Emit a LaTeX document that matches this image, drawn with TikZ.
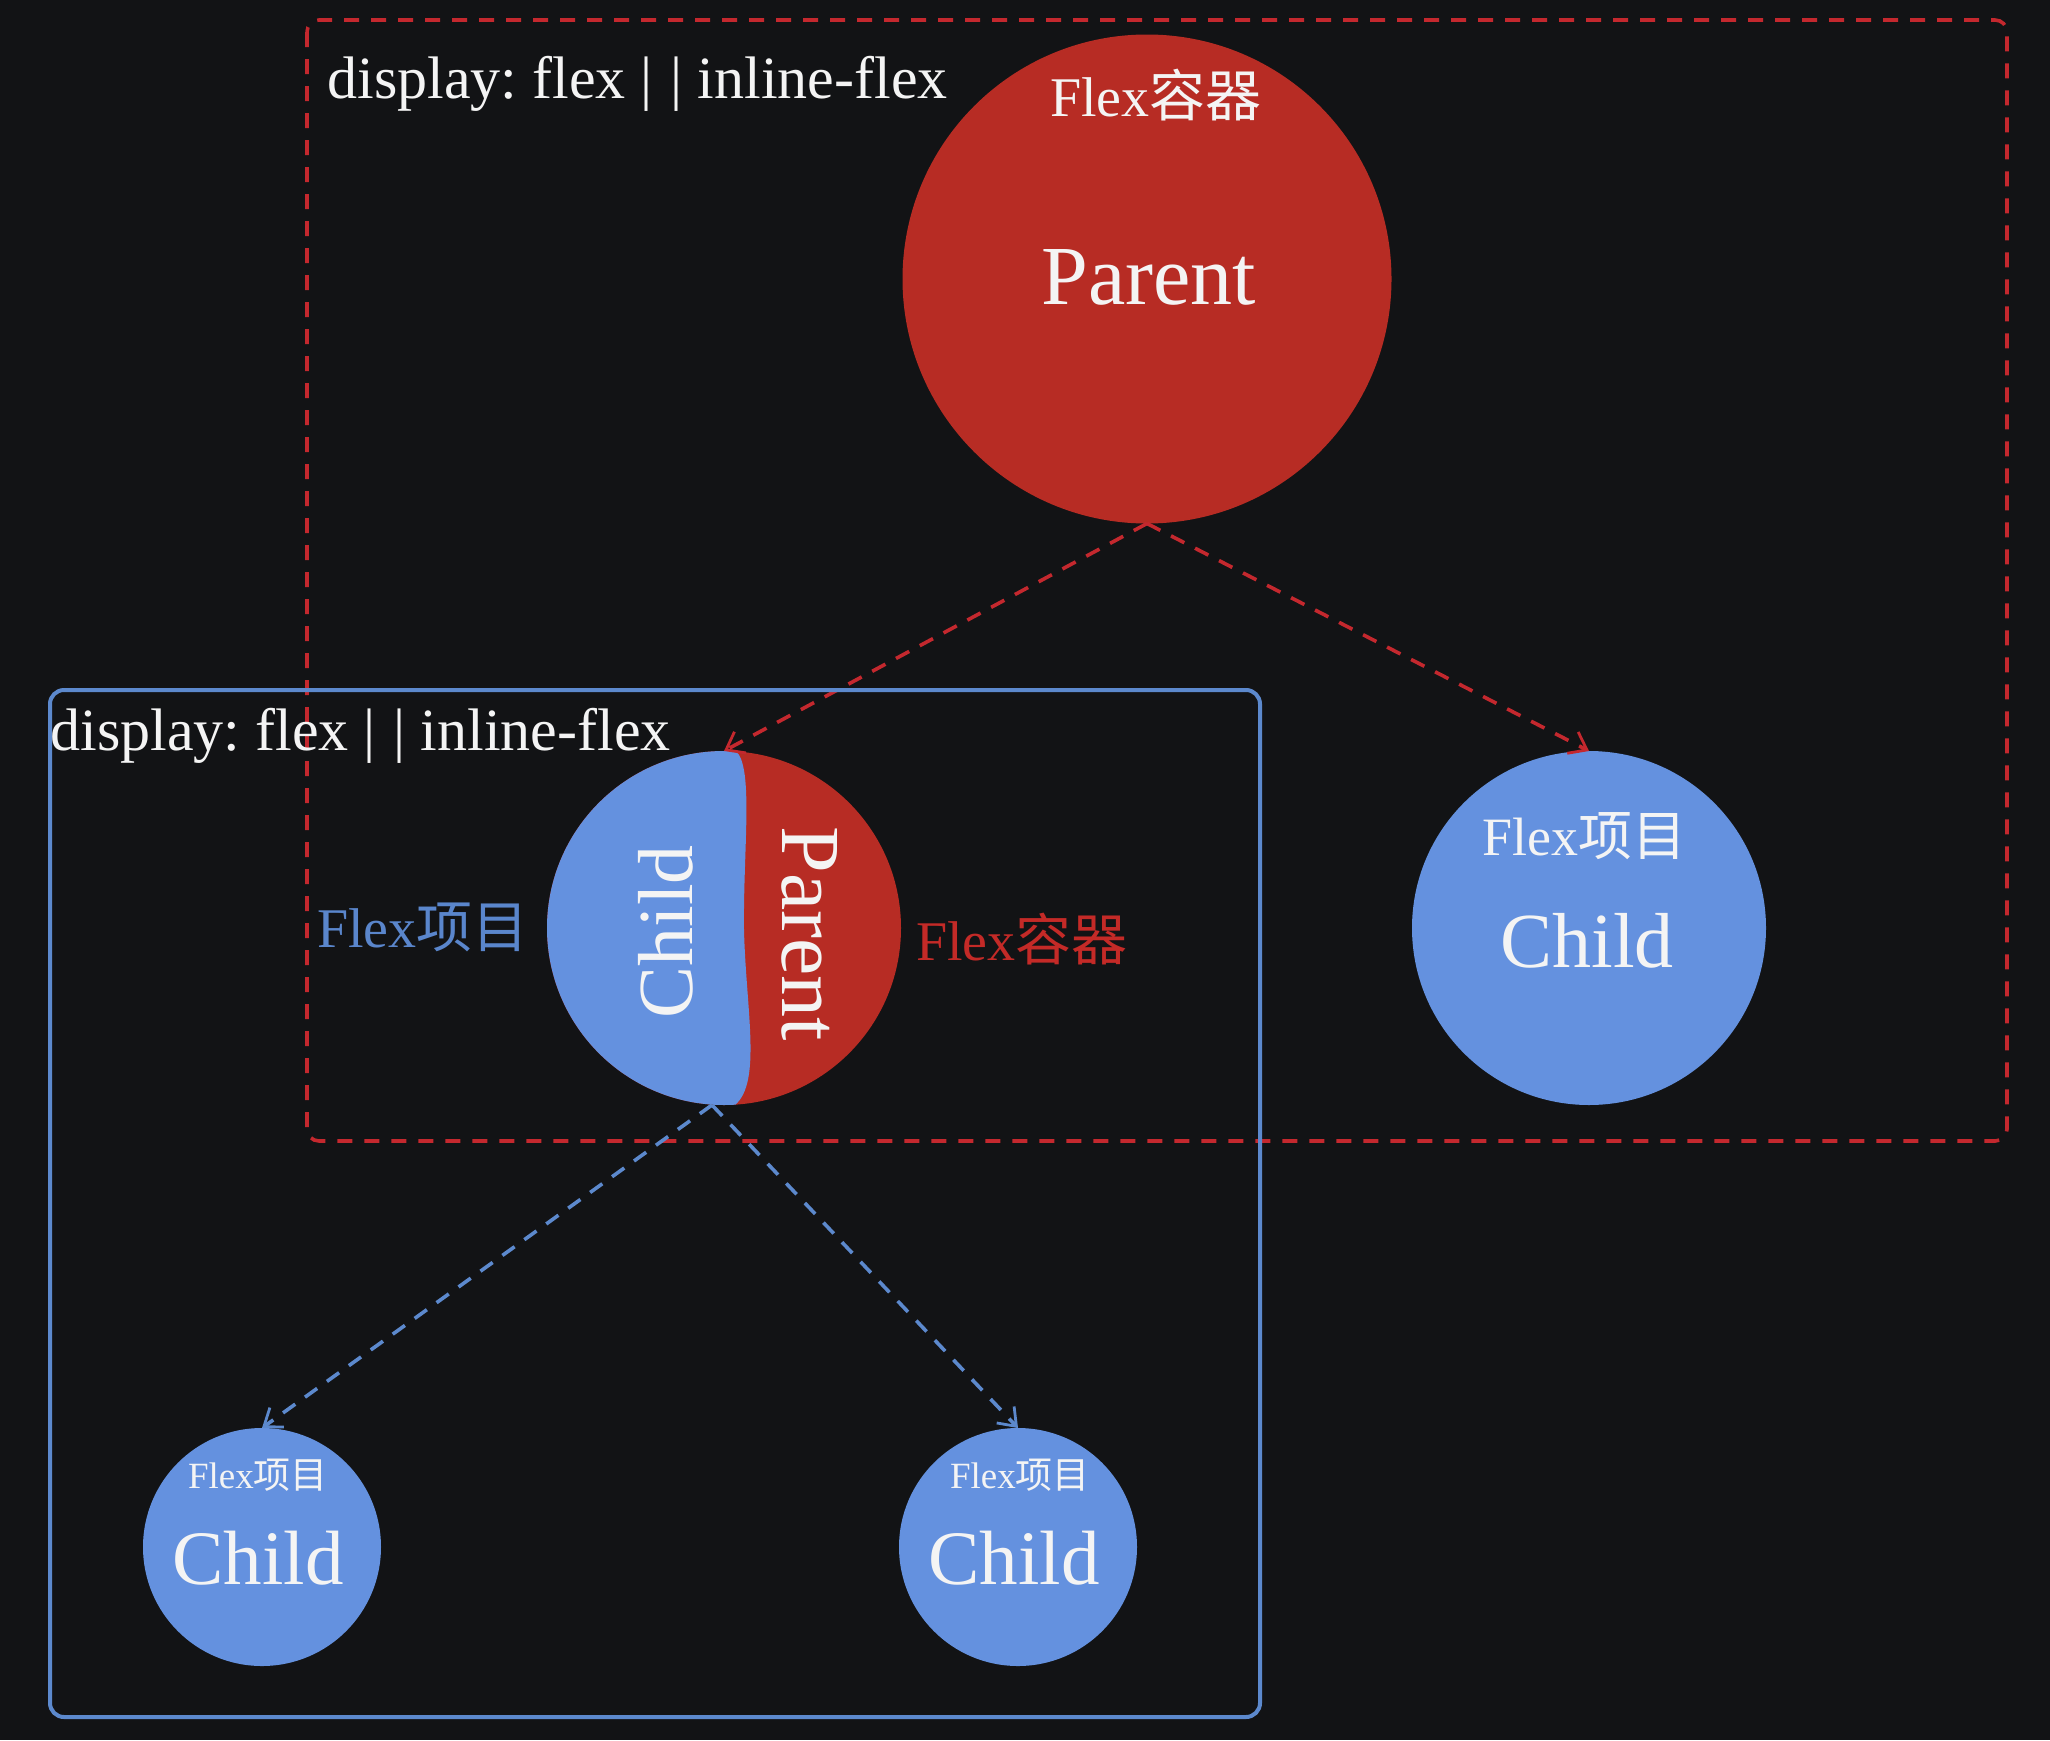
\documentclass[tikz,border=0pt]{standalone}
\usepackage{fontspec}
\setmainfont{Liberation Serif}
\newfontfamily\cjk{Noto Sans CJK SC}
\usetikzlibrary{arrows.meta}
\frenchspacing
\definecolor{bg}{HTML}{121315}
\definecolor{redfill}{HTML}{B72C24}
\definecolor{bluefill}{HTML}{6491DF}
\definecolor{reddash}{HTML}{C4282E}
\definecolor{blueline}{HTML}{5C89CD}
\definecolor{bluelbl}{HTML}{5A86CC}
\definecolor{redlbl}{HTML}{C42A27}
\definecolor{txt}{HTML}{F4F4F4}
\begin{document}
\begin{tikzpicture}[x=0.5pt,y=-0.5pt,
  redbox/.style={draw=reddash, line width=1.8pt, dash pattern=on 7.5pt off 6pt, rounded corners=6pt},
  bluebox/.style={draw=blueline, line width=2pt, rounded corners=7pt},
  redarrow/.style={draw=reddash, line width=1.8pt, dash pattern=on 7.5pt off 6pt,
    -{Straight Barb[length=8pt,width=12pt,line width=1.4pt]}},
  bluearrow/.style={draw=blueline, line width=1.8pt, dash pattern=on 7.5pt off 6pt,
    -{Straight Barb[length=8pt,width=12pt,line width=1.4pt]}},
  ball/.style={circle, inner sep=0pt, outer sep=0pt},
  lbl/.style={inner sep=0pt, text=txt},
  fs/.style={font=\fontsize{#1}{#1}\selectfont}
]
\useasboundingbox (0,0) rectangle (2050,1740);
\fill[bg] (0,0) rectangle (2050,1740);

% red dashed container
\draw[redbox] (307,20) rectangle (2007,1141);

% circles
\node[ball, fill=redfill, minimum size=244.5pt] (parent) at (1147,279) {};
\node[ball, fill=bluefill, minimum size=177pt] (rchild) at (1589,928) {};
\node[ball, fill=redfill, minimum size=177pt] (split) at (724,928) {};
\node[ball, fill=bluefill, minimum size=119pt] (bl) at (262,1547) {};
\node[ball, fill=bluefill, minimum size=119pt] (br) at (1018,1547) {};

% blue half of the split circle
\begin{scope}
  \clip (split.center) circle[radius=88.5pt];
  \fill[bluefill] (736,735) -- (736,751) .. controls (754,768) and (743,850) .. (744,930)
    .. controls (746,1010) and (762,1082) .. (735,1105) -- (735,1120) -- (530,1120) -- (530,735) -- cycle;
\end{scope}

% connectors
\draw[redarrow] (parent.south) -- (split.north);
\draw[redarrow] (parent.south) -- (rchild.north);
\draw[bluearrow] ([xshift=-6pt]split.south) -- (bl.north);
\draw[bluearrow] ([xshift=-6pt]split.south) -- (br.north);

% blue container
\draw[bluebox] (50,690) rectangle (1260,1717);

% labels
\node[lbl, fs=30, anchor=base west] (d1) at (327,98) {display: flex |\kern0.3em| inline-flex};
\node[lbl, fs=30, anchor=base west] (d2) at (50,750) {display: flex |\kern0.3em| inline-flex};

\node[lbl, fs=28, anchor=base] (pflex) at (1156,116) {Flex{\cjk 容器}};
\node[lbl, fs=42, anchor=base] (ptext) at (1149,304) {Parent};

\node[lbl, fs=27, anchor=base] (rflex) at (1584,855) {Flex{\cjk 项目}};
\node[lbl, fs=39, anchor=base] (rtext) at (1587,967) {Child};

\node[lbl, fs=39, anchor=base, rotate=90] (schild) at (692,932) {Child};
\node[lbl, fs=42, anchor=base, rotate=-90] (sparent) at (782,934) {Parent};

\node[inner sep=0pt, text=bluelbl, fs=28, anchor=base] (sflexi) at (423,947) {Flex{\cjk 项目}};
\node[inner sep=0pt, text=redlbl, fs=28, anchor=base] (sflexc) at (1022,960) {Flex{\cjk 容器}};

\node[lbl, fs=18.5, anchor=base] (blflex) at (258,1488) {Flex{\cjk 项目}};
\node[lbl, fs=38.5, anchor=base] (bltext) at (258,1584) {Child};
\node[lbl, fs=18.5, anchor=base] (brflex) at (1020,1488) {Flex{\cjk 项目}};
\node[lbl, fs=38.5, anchor=base] (brtext) at (1014,1584) {Child};
\end{tikzpicture}
\end{document}
